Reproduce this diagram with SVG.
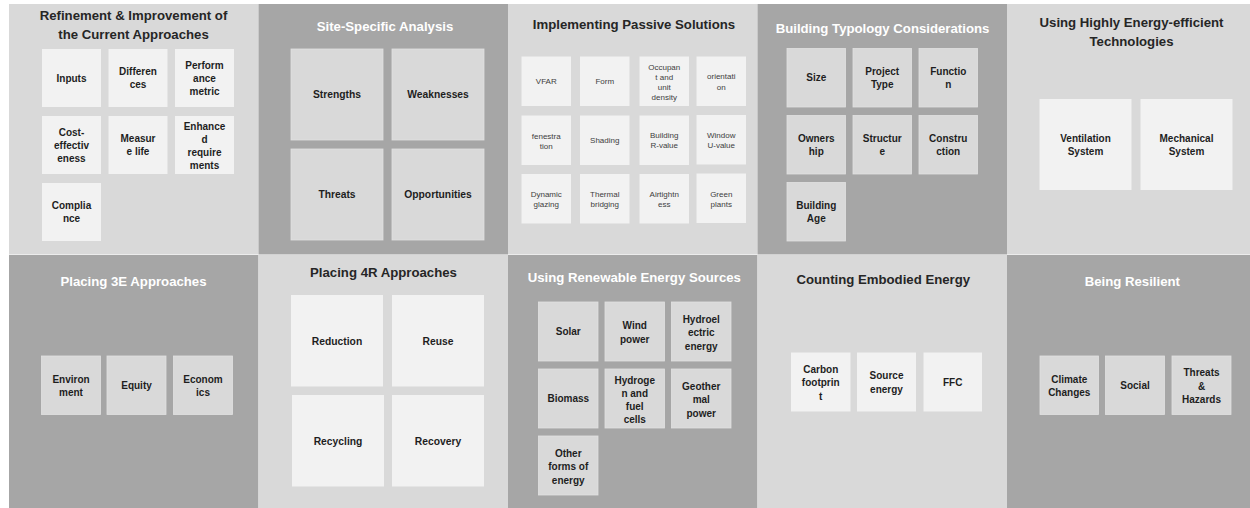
<svg xmlns="http://www.w3.org/2000/svg" width="1250" height="508" viewBox="0 0 1250 508">
<style>
.pl{fill:#d9d9d9}
.pd{fill:#a6a6a6}
.bl{fill:#f2f2f2}
.bd{fill:#d9d9d9;stroke:#e2e2e2;stroke-width:0.8}
.tl,.td{font-family:"Liberation Sans",Arial,sans-serif;font-weight:bold;font-size:13.2px;text-anchor:middle}
.tl{fill:#262626}
.td{fill:#ffffff}
.b{font-family:"Liberation Sans",Arial,sans-serif;font-weight:bold;font-size:10px;fill:#1e1e1e;text-anchor:middle}
.bb{font-family:"Liberation Sans",Arial,sans-serif;font-weight:bold;font-size:10.3px;fill:#1e1e1e;text-anchor:middle}
.s{font-family:"Liberation Sans",Arial,sans-serif;font-size:8px;fill:#404040;text-anchor:middle}
</style>
<rect width="1250" height="508" fill="#ffffff"/>

<g id="panel-refinement">
<rect class="pl" x="9" y="4" width="249.5" height="250.5"/>
<text class="tl" x="133.5"><tspan x="133.5" y="19.7">Refinement &amp; Improvement of</tspan><tspan x="133.5" y="38.7">the Current Approaches</tspan></text>
<rect class="bl" x="42" y="49" width="59" height="58"/>
<rect class="bl" x="108.5" y="49" width="59" height="58"/>
<rect class="bl" x="175" y="49" width="59" height="58"/>
<rect class="bl" x="42" y="116" width="59" height="58"/>
<rect class="bl" x="108.5" y="116" width="59" height="58"/>
<rect class="bl" x="175" y="116" width="59" height="58"/>
<rect class="bl" x="42" y="183" width="59" height="58"/>
<text class="b" x="71.5" y="81.5">Inputs</text>
<text class="b"><tspan x="138" y="75">Differen</tspan><tspan x="138" y="88">ces</tspan></text>
<text class="b"><tspan x="204.5" y="68.5">Perform</tspan><tspan x="204.5" y="81.5">ance</tspan><tspan x="204.5" y="94.5">metric</tspan></text>
<text class="b"><tspan x="71.5" y="135.5">Cost-</tspan><tspan x="71.5" y="148.5">effectiv</tspan><tspan x="71.5" y="161.5">eness</tspan></text>
<text class="b"><tspan x="138" y="142">Measur</tspan><tspan x="138" y="155">e life</tspan></text>
<text class="b"><tspan x="204.5" y="130">Enhance</tspan><tspan x="204.5" y="143">d</tspan><tspan x="204.5" y="156">require</tspan><tspan x="204.5" y="169">ments</tspan></text>
<text class="b"><tspan x="71.5" y="209">Complia</tspan><tspan x="71.5" y="222">nce</tspan></text>
</g>

<g id="panel-site">
<rect class="pd" x="258.5" y="4" width="249.5" height="250.5"/>
<text class="td" x="385" y="30.7">Site-Specific Analysis</text>
<rect class="bd" x="291" y="49" width="92" height="91"/>
<rect class="bd" x="392" y="49" width="92" height="91"/>
<rect class="bd" x="291" y="149" width="92" height="91"/>
<rect class="bd" x="392" y="149" width="92" height="91"/>
<text class="bb" x="337" y="98.2">Strengths</text>
<text class="bb" x="438" y="98.2">Weaknesses</text>
<text class="bb" x="337" y="198.2">Threats</text>
<text class="bb" x="438" y="198.2">Opportunities</text>
</g>

<g id="panel-passive">
<rect class="pl" x="508" y="4" width="249.5" height="250.5"/>
<text class="tl" x="634" y="28.7">Implementing Passive Solutions</text>
<rect class="bl" x="521.5" y="56.5" width="49.5" height="49.5"/>
<rect class="bl" x="580" y="56.5" width="49.5" height="49.5"/>
<rect class="bl" x="639.5" y="56.5" width="49.5" height="49.5"/>
<rect class="bl" x="696.5" y="56.5" width="49.5" height="49.5"/>
<rect class="bl" x="521.5" y="115.5" width="49.5" height="49.5"/>
<rect class="bl" x="580" y="115.5" width="49.5" height="49.5"/>
<rect class="bl" x="639.5" y="115.5" width="49.5" height="49.5"/>
<rect class="bl" x="696.5" y="115" width="49.5" height="49.5"/>
<rect class="bl" x="521.5" y="174" width="49.5" height="49.5"/>
<rect class="bl" x="580" y="174" width="49.5" height="49.5"/>
<rect class="bl" x="639.5" y="174" width="49.5" height="49.5"/>
<rect class="bl" x="696.5" y="173.5" width="49.5" height="49.5"/>
<text class="s" x="546.25" y="84">VFAR</text>
<text class="s" x="604.75" y="84">Form</text>
<text class="s"><tspan x="664.25" y="70">Occupan</tspan><tspan x="664.25" y="80">t and</tspan><tspan x="664.25" y="90">unit</tspan><tspan x="664.25" y="100">density</tspan></text>
<text class="s"><tspan x="721.25" y="79">orientati</tspan><tspan x="721.25" y="89.5">on</tspan></text>
<text class="s"><tspan x="546.25" y="138.5">fenestra</tspan><tspan x="546.25" y="148.5">tion</tspan></text>
<text class="s" x="604.75" y="143">Shading</text>
<text class="s"><tspan x="664.25" y="138">Building</tspan><tspan x="664.25" y="148">R-value</tspan></text>
<text class="s"><tspan x="721.25" y="137.5">Window</tspan><tspan x="721.25" y="147.5">U-value</tspan></text>
<text class="s"><tspan x="546.25" y="196.5">Dynamic</tspan><tspan x="546.25" y="206.5">glazing</tspan></text>
<text class="s"><tspan x="604.75" y="196.5">Thermal</tspan><tspan x="604.75" y="206.5">bridging</tspan></text>
<text class="s"><tspan x="664.25" y="196.5">Airtightn</tspan><tspan x="664.25" y="206.5">ess</tspan></text>
<text class="s"><tspan x="721.25" y="196.5">Green</tspan><tspan x="721.25" y="206.5">plants</tspan></text>
</g>

<g id="panel-typology">
<rect class="pd" x="757.5" y="4" width="249.5" height="250.5"/>
<text class="td" x="882.5" y="32.7">Building Typology Considerations</text>
<rect class="bd" x="787" y="48.5" width="58.5" height="58.5"/>
<rect class="bd" x="853" y="48.5" width="58.5" height="58.5"/>
<rect class="bd" x="919" y="48.5" width="58.5" height="58.5"/>
<rect class="bd" x="787" y="115.5" width="58.5" height="58.5"/>
<rect class="bd" x="853" y="115.5" width="58.5" height="58.5"/>
<rect class="bd" x="919" y="115.5" width="58.5" height="58.5"/>
<rect class="bd" x="787" y="182.5" width="58.5" height="58.5"/>
<text class="b" x="816.25" y="81.25">Size</text>
<text class="b"><tspan x="882.25" y="74.75">Project</tspan><tspan x="882.25" y="87.75">Type</tspan></text>
<text class="b"><tspan x="948.25" y="74.75">Functio</tspan><tspan x="948.25" y="87.75">n</tspan></text>
<text class="b"><tspan x="816.25" y="141.75">Owners</tspan><tspan x="816.25" y="154.75">hip</tspan></text>
<text class="b"><tspan x="882.25" y="141.75">Structur</tspan><tspan x="882.25" y="154.75">e</tspan></text>
<text class="b"><tspan x="948.25" y="141.75">Constru</tspan><tspan x="948.25" y="154.75">ction</tspan></text>
<text class="b"><tspan x="816.25" y="208.75">Building</tspan><tspan x="816.25" y="221.75">Age</tspan></text>
</g>

<g id="panel-technologies">
<rect class="pl" x="1007" y="4" width="243" height="250.5"/>
<text class="tl"><tspan x="1131.5" y="27.4">Using Highly Energy-efficient</tspan><tspan x="1131.5" y="46">Technologies</tspan></text>
<rect class="bl" x="1039.5" y="99" width="92" height="91"/>
<rect class="bl" x="1140.5" y="99" width="92" height="91"/>
<text class="b"><tspan x="1085.5" y="141.5">Ventilation</tspan><tspan x="1085.5" y="155">System</tspan></text>
<text class="b"><tspan x="1186.5" y="141.5">Mechanical</tspan><tspan x="1186.5" y="155">System</tspan></text>
</g>

<g id="panel-3e">
<rect class="pd" x="9" y="255" width="249.5" height="253"/>
<text class="td" x="133.5" y="286.4">Placing 3E Approaches</text>
<rect class="bd" x="41.5" y="356" width="59" height="58.5"/>
<rect class="bd" x="107" y="356" width="59" height="58.5"/>
<rect class="bd" x="173.5" y="356" width="59" height="58.5"/>
<text class="b"><tspan x="71" y="382.5">Environ</tspan><tspan x="71" y="395.5">ment</tspan></text>
<text class="b" x="136.5" y="389">Equity</text>
<text class="b"><tspan x="203" y="382.5">Econom</tspan><tspan x="203" y="395.5">ics</tspan></text>
</g>

<g id="panel-4r">
<rect class="pl" x="258.5" y="255" width="249.5" height="253"/>
<text class="tl" x="383.5" y="277.4">Placing 4R Approaches</text>
<rect class="bl" x="291" y="295" width="92" height="91.5"/>
<rect class="bl" x="392" y="295" width="92" height="91.5"/>
<rect class="bl" x="292" y="395" width="92" height="91.5"/>
<rect class="bl" x="392" y="395" width="92" height="91.5"/>
<text class="bb" x="337" y="344.7">Reduction</text>
<text class="bb" x="438" y="344.7">Reuse</text>
<text class="bb" x="338" y="444.7">Recycling</text>
<text class="bb" x="438" y="444.7">Recovery</text>
</g>

<g id="panel-renewable">
<rect class="pd" x="508" y="255" width="249.5" height="253"/>
<text class="td" x="634.3" y="282.4">Using Renewable Energy Sources</text>
<rect class="bd" x="538.5" y="302" width="59.5" height="59"/>
<rect class="bd" x="605" y="302" width="59.5" height="59"/>
<rect class="bd" x="671.5" y="302" width="59.5" height="59"/>
<rect class="bd" x="538.5" y="369" width="59.5" height="59"/>
<rect class="bd" x="605" y="369" width="59.5" height="59"/>
<rect class="bd" x="671.5" y="369" width="59.5" height="59"/>
<rect class="bd" x="538.5" y="436" width="59.5" height="59"/>
<text class="b" x="568.25" y="335">Solar</text>
<text class="b"><tspan x="634.75" y="329">Wind</tspan><tspan x="634.75" y="342.5">power</tspan></text>
<text class="b"><tspan x="701.25" y="322.5">Hydroel</tspan><tspan x="701.25" y="336">ectric</tspan><tspan x="701.25" y="349.5">energy</tspan></text>
<text class="b" x="568.25" y="402">Biomass</text>
<text class="b"><tspan x="634.75" y="383.5">Hydroge</tspan><tspan x="634.75" y="396.8">n and</tspan><tspan x="634.75" y="410.1">fuel</tspan><tspan x="634.75" y="423.4">cells</tspan></text>
<text class="b"><tspan x="701.25" y="389.5">Geother</tspan><tspan x="701.25" y="403">mal</tspan><tspan x="701.25" y="416.5">power</tspan></text>
<text class="b"><tspan x="568.25" y="456.5">Other</tspan><tspan x="568.25" y="470">forms of</tspan><tspan x="568.25" y="483.5">energy</tspan></text>
</g>

<g id="panel-embodied">
<rect class="pl" x="757.5" y="255" width="249.5" height="253"/>
<text class="tl" x="883.3" y="284">Counting Embodied Energy</text>
<rect class="bl" x="791" y="352.5" width="59.5" height="59"/>
<rect class="bl" x="857" y="352.5" width="59" height="59"/>
<rect class="bl" x="923.5" y="352.5" width="58.5" height="59"/>
<text class="b"><tspan x="820.75" y="372.8">Carbon</tspan><tspan x="820.75" y="386.3">footprin</tspan><tspan x="820.75" y="399.8">t</tspan></text>
<text class="b"><tspan x="886.5" y="379.3">Source</tspan><tspan x="886.5" y="392.6">energy</tspan></text>
<text class="b" x="952.75" y="385.5">FFC</text>
</g>

<g id="panel-resilient">
<rect class="pd" x="1007" y="255" width="243" height="253"/>
<text class="td" x="1132.3" y="285.7">Being Resilient</text>
<rect class="bd" x="1040" y="356" width="58.5" height="58.5"/>
<rect class="bd" x="1105.5" y="356" width="59" height="58.5"/>
<rect class="bd" x="1172" y="356" width="59" height="58.5"/>
<text class="b"><tspan x="1069.25" y="382.5">Climate</tspan><tspan x="1069.25" y="396">Changes</tspan></text>
<text class="b" x="1135" y="389">Social</text>
<text class="b"><tspan x="1201.5" y="376">Threats</tspan><tspan x="1201.5" y="389.5">&amp;</tspan><tspan x="1201.5" y="403">Hazards</tspan></text>
</g>

<g id="connectors"></g>
</svg>
